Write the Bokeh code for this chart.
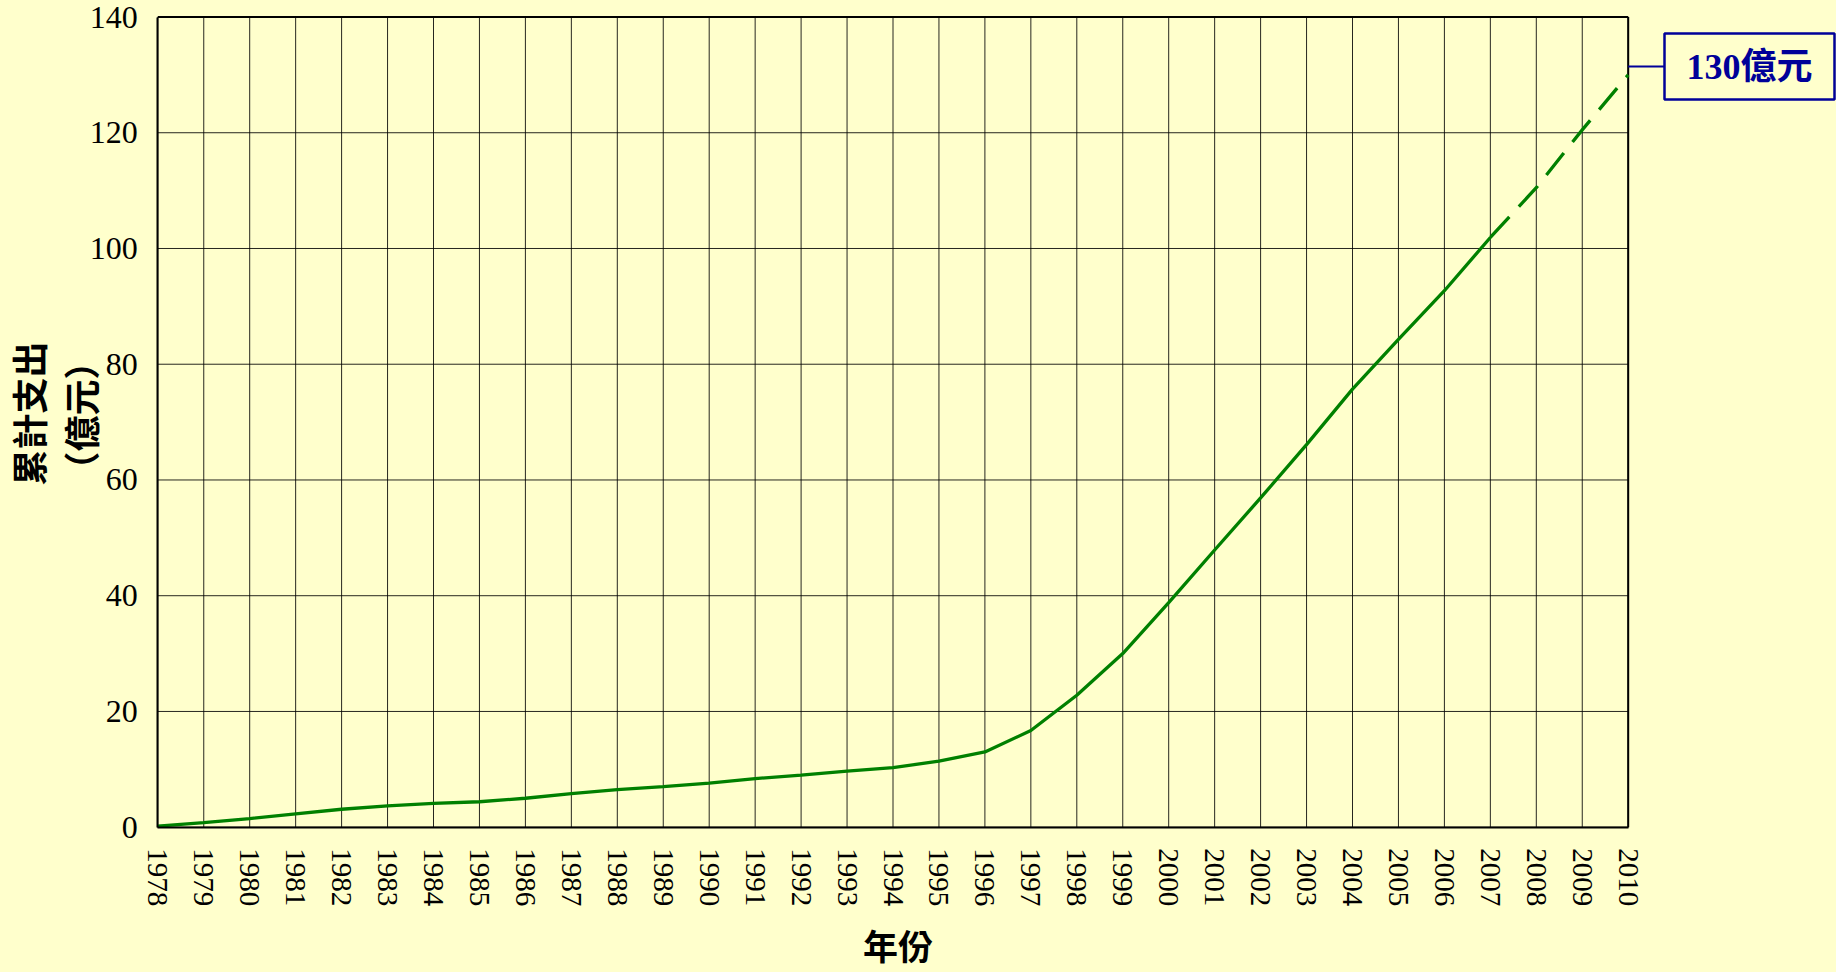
import math
from bokeh.plotting import figure
from bokeh.models import Range1d, FixedTicker, Label, Arrow
from bokeh.embed import file_html
from bokeh.resources import INLINE

# ---- data ----
actual_years = list(range(1978, 2008))
actual_values = [0.2, 0.8, 1.5, 2.3, 3.1, 3.7, 4.1, 4.4, 5.0, 5.8,
                 6.5, 7.0, 7.6, 8.4, 9.0, 9.7, 10.3, 11.4, 13.0, 16.7,
                 22.8, 30.0, 38.8, 47.9, 56.9, 66.1, 75.7, 84.3, 92.7, 101.9]
proj_years = [2007, 2008, 2009, 2010]
proj_values = [101.9, 110.5, 120.5, 130.0]
tick_years = list(range(1978, 2011))
y_ticks = [0, 20, 40, 60, 80, 100, 120, 140]
annot_text = "130億元"
y_label_1 = "累計支出"
y_label_2 = "（億元）"
x_label = "年份"

BG = "#FFFFCC"
GREEN = "#008000"
BLUE = "#000099"
SERIF = "Liberation Serif"
CJK = "Noto Sans CJK TC"

# ---- layout (pixels of the page) ----
W, H = 1836, 972
L, R, T, B = 157.3, 1627.7, 16.5, 826.7     # plot box edges

x0, x1 = tick_years[0], tick_years[-1]
y0, y1 = y_ticks[0], y_ticks[-1]
sx = (R - L) / (x1 - x0)
sy = (B - T) / (y1 - y0)


def dx(px):
    return x0 + (px - L) / sx


def dy(py):
    return y0 + (B - py) / sy


p = figure(width=W, height=H, output_backend="svg", toolbar_location=None,
           x_range=Range1d(dx(0), dx(W)), y_range=Range1d(dy(H), dy(0)),
           min_border=0, min_border_left=0, min_border_right=0,
           min_border_top=0, min_border_bottom=0,
           background_fill_color=BG, border_fill_color=BG,
           outline_line_color=None)

# grid over the plot box only
grid_kw = dict(line_color="black", line_width=1, line_alpha=0.85)
p.segment(x0=tick_years, y0=[y0] * len(tick_years), x1=tick_years, y1=[y1] * len(tick_years), **grid_kw)
p.segment(x0=[x0] * len(y_ticks), y0=y_ticks, x1=[x1] * len(y_ticks), y1=y_ticks, **grid_kw)
# right and top edges of the plot box
p.segment(x0=[x1, x0], y0=[y0, y1], x1=[x1, x1], y1=[y1, y1], line_color="black", line_width=2)

p.line(actual_years, actual_values, line_color=GREEN, line_width=3.3)
p.line(proj_years, proj_values, line_color=GREEN, line_width=3.3, line_dash="28 14")

p.xgrid.grid_line_color = None
p.ygrid.grid_line_color = None

# axes fixed at the plot box edges
p.xaxis.ticker = FixedTicker(ticks=tick_years)
p.yaxis.ticker = FixedTicker(ticks=y_ticks)
p.xaxis.fixed_location = y0
p.yaxis.fixed_location = x0
p.xaxis.bounds = (x0, x1)
p.yaxis.bounds = (y0, y1)
for ax in (p.xaxis[0], p.yaxis[0]):
    ax.axis_line_color = "black"
    ax.axis_line_width = 2
    ax.major_tick_out = 0
    ax.major_tick_in = 0
    ax.minor_tick_out = 0
    ax.minor_tick_in = 0
    ax.major_label_text_font = SERIF
    ax.major_label_text_color = "black"

p.yaxis.major_label_text_font_size = "32px"
p.yaxis.major_label_standoff = 20

p.xaxis.major_label_text_font_size = "29px"
p.xaxis.major_label_orientation = "vertical"
p.xaxis.major_label_standoff = 21

# axis titles
lab_kw = dict(text_font=CJK, text_font_style="bold", text_color="black",
              text_align="center", text_baseline="middle")
p.add_layout(Label(x=dx(27), y=dy(413), text=y_label_1, angle=math.pi / 2,
                   text_font_size="36px", **lab_kw))
p.add_layout(Label(x=dx(79), y=dy(415), text=y_label_2, angle=math.pi / 2,
                   text_font_size="36px", **lab_kw))
p.add_layout(Label(x=dx(897.5), y=dy(944), text=x_label,
                   text_font_size="35px", **lab_kw))

# call-out box with connector
annot_y = dy(66)
p.add_layout(Arrow(end=None, x_start=x1, y_start=annot_y,
                   x_end=dx(1664), y_end=annot_y,
                   line_color=BLUE, line_width=2))
p.add_layout(Label(x=dx(1664), y=annot_y, text=annot_text,
                   text_font=SERIF + ", " + CJK, text_font_size="36px",
                   text_font_style="bold", text_color=BLUE,
                   text_align="left", text_baseline="middle",
                   border_line_color=BLUE, border_line_width=2.5,
                   background_fill_color=BG,
                   padding=dict(left=22, right=22, top=13, bottom=13)))

html = file_html(p, INLINE)
html = html.replace("<head>", "<head><style>html,body{background-color:#FFFFCC;}</style>", 1)
open("out.html", "w").write(html)
